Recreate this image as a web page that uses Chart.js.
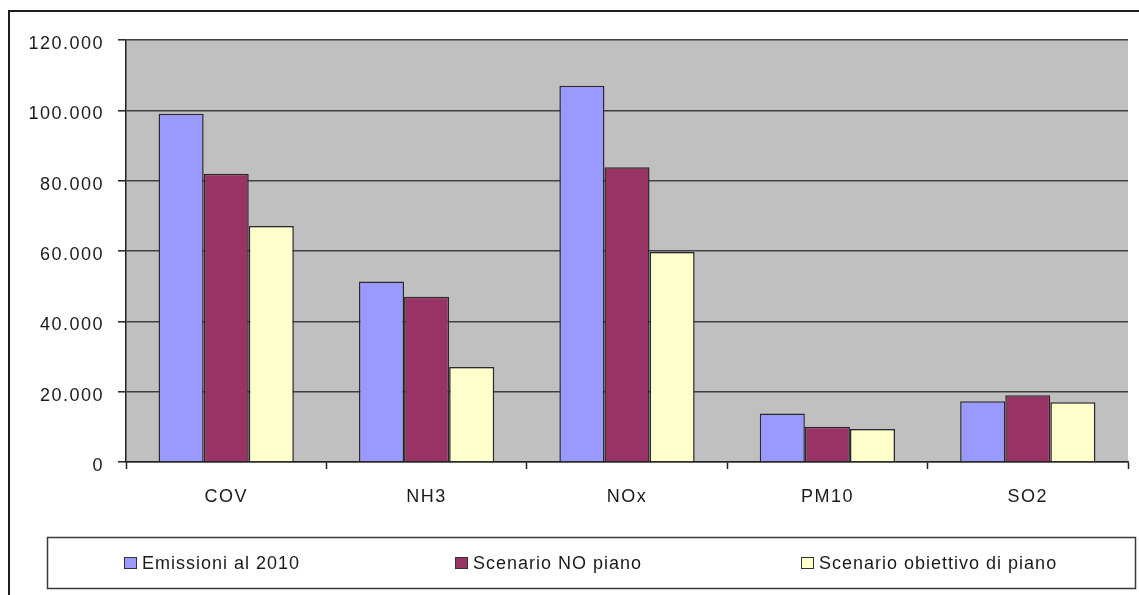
<!DOCTYPE html>
<html lang="it">
<head>
<meta charset="utf-8">
<title>Emissioni</title>
<script src="https://cdn.jsdelivr.net/npm/chart.js@4/dist/chart.umd.min.js"></script>
<style>
  html, body { margin: 0; padding: 0; background: #ffffff; }
  #wrap { width: 1139px; height: 595px; position: relative; }
  canvas { display: block; }
</style>
</head>
<body>
<div id="wrap"><canvas id="chart" width="1139" height="595"></canvas></div>
<script>
// Inquinanti (categorie)
const categories = ['COV', 'NH3', 'NOx', 'PM10', 'SO2'];

// Serie (tonnellate/anno)
const emissioni2010 = [99000, 51300, 107000, 13800, 17300];
const scenarioNoPiano = [82000, 47000, 83800, 10000, 19000];
const scenarioObiettivo = [67100, 27000, 59700, 9400, 17000];

const seriesNames = ['Emissioni al 2010', 'Scenario NO piano', 'Scenario obiettivo di piano'];
const seriesColors = ['#9999ff', '#993366', '#ffffcc'];

// Asse Y
const yMin = 0;
const yMax = 120000;
const yStep = 20000;

const FONT = { family: '"Liberation Sans", Arial, sans-serif', size: 18 };
const TEXT_COLOR = '#1a1a1a';
const AXIS_SPACING = '1.5px';
const LEGEND_SPACING = '1px';

function formatIt(v) {
  return String(Math.round(v)).replace(/\B(?=(\d{3})+(?!\d))/g, '.');
}

// Spaziatura caratteri, area grafico grigia, cornice e legenda
const excelLook = {
  id: 'excelLook',
  beforeLayout(chart) { chart.ctx.letterSpacing = AXIS_SPACING; },
  beforeDraw(chart) {
    const { ctx, chartArea: a } = chart;
    ctx.letterSpacing = AXIS_SPACING;
    ctx.save();
    ctx.fillStyle = '#c0c0c0';
    ctx.fillRect(a.left, a.top, a.right - a.left, a.bottom - a.top);
    ctx.restore();
  },
  afterDraw(chart) {
    const ctx = chart.ctx;
    ctx.save();
    // cornice esterna
    ctx.strokeStyle = '#1e1e1e';
    ctx.lineWidth = 2;
    ctx.beginPath();
    ctx.moveTo(9, 600);
    ctx.lineTo(9, 11);
    ctx.lineTo(1145, 11);
    ctx.stroke();

    // riquadro legenda
    ctx.strokeStyle = '#3a3a3a';
    ctx.lineWidth = 1.5;
    ctx.strokeRect(47.5, 537.5, 1088, 51);

    const itemX = [124, 455, 801];
    ctx.font = `${FONT.size}px ${FONT.family}`;
    ctx.letterSpacing = LEGEND_SPACING;
    ctx.textBaseline = 'middle';
    ctx.textAlign = 'left';
    chart.data.datasets.forEach((ds, i) => {
      const x = itemX[i];
      ctx.fillStyle = ds.backgroundColor;
      ctx.fillRect(x, 557, 12, 11);
      ctx.strokeStyle = '#333333';
      ctx.lineWidth = 1;
      ctx.strokeRect(x + 0.5, 557.5, 12, 11);
      ctx.fillStyle = TEXT_COLOR;
      ctx.fillText(ds.label, x + 18, 564);
    });
    ctx.restore();
  }
};

const datasets = [emissioni2010, scenarioNoPiano, scenarioObiettivo].map((data, i) => ({
  label: seriesNames[i],
  data,
  backgroundColor: seriesColors[i],
  borderColor: '#2a2a2a',
  borderWidth: 1.5,
  categoryPercentage: 0.675,
  barPercentage: 1.0
}));

new Chart(document.getElementById('chart'), {
  type: 'bar',
  data: { labels: categories, datasets },
  plugins: [excelLook],
  options: {
    responsive: false,
    animation: false,
    devicePixelRatio: 1,
    layout: { padding: { left: 8, right: 11, top: 40, bottom: 93 } },
    plugins: {
      legend: { display: false },
      tooltip: { enabled: false }
    },
    scales: {
      x: {
        afterFit(scale) { scale.height = 40; },
        grid: {
          offset: true,
          drawOnChartArea: false,
          drawTicks: true,
          tickLength: 7,
          tickColor: '#222222',
          tickWidth: 1.5
        },
        border: { color: '#222222', width: 1.5 },
        ticks: { color: TEXT_COLOR, font: FONT, padding: 17 }
      },
      y: {
        min: yMin,
        max: yMax,
        afterFit(scale) { scale.width = 118; },
        grid: {
          color: '#404040',
          lineWidth: 1.6,
          drawTicks: true,
          tickLength: 8,
          tickColor: '#222222',
          tickWidth: 1.5
        },
        border: { color: '#222222', width: 1.5 },
        ticks: {
          stepSize: yStep,
          color: TEXT_COLOR,
          font: FONT,
          padding: 14,
          labelOffset: 4,
          callback: (v) => formatIt(v)
        }
      }
    }
  }
});
</script>
</body>
</html>
